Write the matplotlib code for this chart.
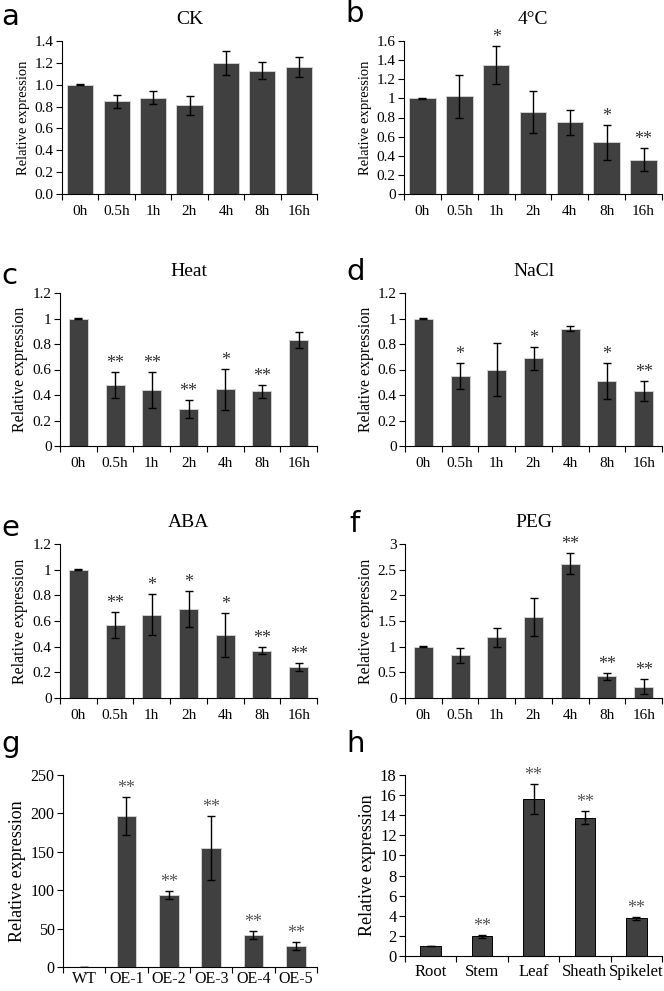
import numpy as np
import matplotlib as mpl
mpl.use('Agg')
import matplotlib.pyplot as plt
from matplotlib.ticker import FuncFormatter, MultipleLocator

plt.rcParams['font.family'] = ['Liberation Serif', 'DejaVu Serif']

# time course labels
hours = ['0h', '0.5h', '1h', '2h', '4h', '8h', '16h']

# a: CK
ck_mean = [1.00, 0.85, 0.88, 0.81, 1.20, 1.13, 1.16]
ck_err = [0.005, 0.06, 0.06, 0.09, 0.11, 0.08, 0.09]
ck_sig = ['', '', '', '', '', '', '']
# b: 4°C
cold_mean = [1.00, 1.02, 1.35, 0.86, 0.75, 0.54, 0.36]
cold_err = [0.005, 0.22, 0.20, 0.22, 0.13, 0.18, 0.12]
cold_sig = ['', '', '*', '', '', '*', '**']
# c: Heat
heat_mean = [1.00, 0.48, 0.44, 0.29, 0.445, 0.43, 0.83]
heat_err = [0.003, 0.10, 0.14, 0.07, 0.16, 0.05, 0.065]
heat_sig = ['', '**', '**', '**', '*', '**', '']
# d: NaCl
nacl_mean = [1.00, 0.55, 0.60, 0.69, 0.92, 0.51, 0.43]
nacl_err = [0.003, 0.10, 0.21, 0.09, 0.02, 0.14, 0.08]
nacl_sig = ['', '*', '', '*', '', '*', '**']
# e: ABA
aba_mean = [1.00, 0.57, 0.65, 0.69, 0.49, 0.37, 0.24]
aba_err = [0.003, 0.10, 0.16, 0.14, 0.17, 0.03, 0.03]
aba_sig = ['', '**', '*', '*', '*', '**', '**']
# f: PEG
peg_mean = [1.00, 0.83, 1.18, 1.57, 2.62, 0.42, 0.22]
peg_err = [0.008, 0.15, 0.19, 0.37, 0.20, 0.06, 0.15]
peg_sig = ['', '', '', '', '**', '**', '**']
# g: overexpression lines
lines = ['WT', 'OE-1', 'OE-2', 'OE-3', 'OE-4', 'OE-5']
oe_mean = [0.5, 197, 94, 155, 42, 27]
oe_err = [0.0, 25, 5, 42, 5, 5]
oe_sig = ['', '**', '**', '**', '**', '**']
# h: tissues
tissues = ['Root', 'Stem', 'Leaf', 'Sheath', 'Spikelet']
tis_mean = [1.0, 1.95, 15.6, 13.75, 3.75]
tis_err = [0.0, 0.15, 1.5, 0.65, 0.15]
tis_sig = ['', '**', '**', '**', '**']

W, H = 664, 991
fig = plt.figure(figsize=(W / 100, H / 100), dpi=100)


def px_axes(l, t, r, b):
    return fig.add_axes([l / W, 1 - b / H, (r - l) / W, (b - t) / H])


def panel(box, cats, mean, err, sig, ymax, step, fmt, width, title, letter,
          letter_xy, ylab_size=10.5, tick_size=11, xpad=8, edge='#d0d0d0',
          star_col='#333333'):
    ax = px_axes(*box)
    x = np.arange(len(cats))
    ax.bar(x, mean, width, color='#404040', edgecolor=edge, linewidth=0.7,
           zorder=2)
    ax.errorbar(x, mean, yerr=err, fmt='none', ecolor='black', elinewidth=1,
                capsize=3, capthick=1, zorder=3)
    for xi, m, e, s in zip(x, mean, err, sig):
        if s:
            ax.annotate(s, (xi, m + e), xytext=(0, 0), textcoords='offset points',
                        ha='center', va='bottom', fontsize=13, color=star_col)
    ax.set_xlim(-0.5, len(cats) - 0.5)
    ax.set_ylim(0, ymax)
    ax.yaxis.set_major_locator(MultipleLocator(step))
    ax.yaxis.set_major_formatter(FuncFormatter(lambda v, p: fmt % v))
    ax.set_xticks(x, cats)
    ax.set_xticks(np.arange(len(cats) + 1) - 0.5, minor=True)
    ax.tick_params(axis='x', which='major', length=0, pad=xpad, labelsize=tick_size)
    ax.tick_params(axis='x', which='minor', length=4, width=0.8, direction='out')
    ax.tick_params(axis='y', length=4, width=0.8, direction='out',
                   labelsize=tick_size, pad=2)
    ax.spines['top'].set_visible(False)
    ax.spines['right'].set_visible(False)
    ax.spines['left'].set_linewidth(0.8)
    ax.spines['bottom'].set_linewidth(0.8)
    ax.set_ylabel('Relative expression', fontsize=ylab_size, labelpad=3)
    if title:
        ax.set_title(title, fontsize=14, pad=12)
    fig.text(letter_xy[0] / W, 1 - letter_xy[1] / H, letter, family='DejaVu Sans',
             fontsize=21, ha='left', va='center')
    return ax


panel((62, 41, 317, 194), hours, ck_mean, ck_err, ck_sig, 1.4, 0.2, '%.1f', 0.72,
      'CK', 'a', (1, 17))
panel((404, 41, 662, 194), hours, cold_mean, cold_err, cold_sig, 1.6, 0.2, '%.3g', 0.72,
      '4°C', 'b', (345, 14))
panel((60, 293, 317, 446), hours, heat_mean, heat_err, heat_sig, 1.2, 0.2, '%.3g', 0.52,
      'Heat', 'c', (1, 276), ylab_size=11.5)
panel((405, 293, 662, 446), hours, nacl_mean, nacl_err, nacl_sig, 1.2, 0.2, '%.3g', 0.52,
      'NaCl', 'd', (346, 272), ylab_size=11.5)
panel((60, 544, 317, 698), hours, aba_mean, aba_err, aba_sig, 1.2, 0.2, '%.3g', 0.52,
      'ABA', 'e', (1, 528), ylab_size=11.5)
panel((405, 544, 662, 698), hours, peg_mean, peg_err, peg_sig, 3, 0.5, '%.3g', 0.52,
      'PEG', 'f', (349, 524), ylab_size=11.5)
panel((63, 775, 317, 967), lines, oe_mean, oe_err, oe_sig, 250, 50, '%g', 0.47,
      None, 'g', (1, 744), ylab_size=13, tick_size=11.5, xpad=3,
      star_col='#555555')
panel((405, 775, 662, 956), tissues, tis_mean, tis_err, tis_sig, 18, 2, '%g', 0.4,
      None, 'h', (346, 744), ylab_size=13, tick_size=12, xpad=6, edge='black',
      star_col='#555555')

fig.savefig('out.png', dpi=100)
